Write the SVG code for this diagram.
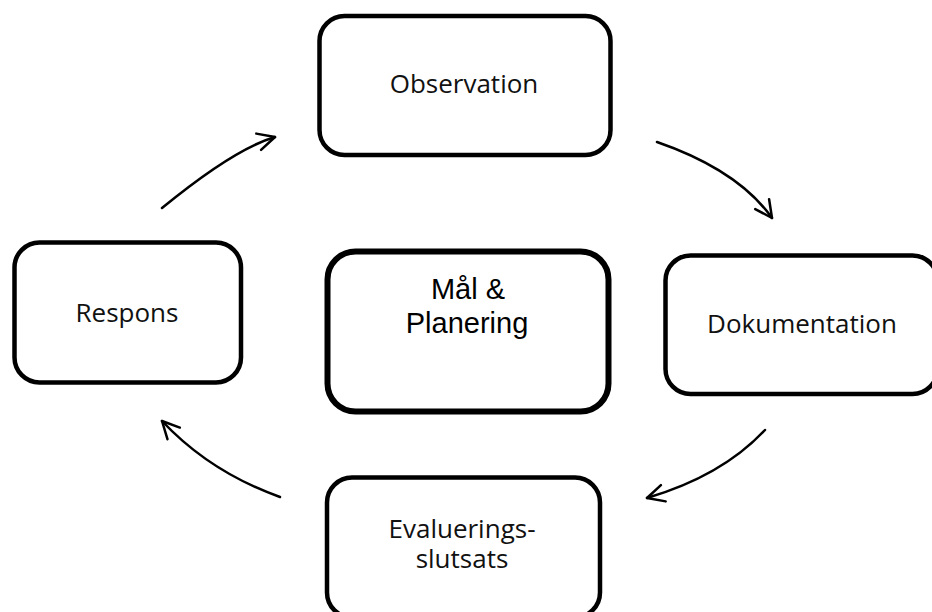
<svg xmlns="http://www.w3.org/2000/svg" width="932" height="612" viewBox="0 0 932 612">
<style>
.box{fill:#fff;stroke:#000;stroke-width:4.5}
.main{fill:#fff;stroke:#000;stroke-width:6}
.lbl{font-family:"Open Sans","Noto Sans",sans-serif;font-size:26px;fill:#111;text-anchor:middle}
.big{font-family:"Liberation Sans",Arial,sans-serif;font-size:29px;fill:#000;text-anchor:middle}
.arr{fill:none;stroke:#000;stroke-width:2.5;stroke-linecap:round}
</style>
<defs>
<marker id="ah" markerUnits="userSpaceOnUse" markerWidth="40" markerHeight="40" viewBox="-20 -20 40 40" refX="0" refY="0" orient="auto">
<path d="M-17,-8.5 L0,0 L-17,8.5" fill="none" stroke="#000" stroke-width="2.5" stroke-linecap="round" stroke-linejoin="round"/>
</marker>
</defs>
<rect width="932" height="612" fill="#fff"/>
<g id="connectors">
<path class="arr" d="M162,208 Q234,149 275,137" marker-end="url(#ah)"/>
<path class="arr" d="M657,142 Q738,170 772,218" marker-end="url(#ah)"/>
<path class="arr" d="M765,430 Q722,476 647,498" marker-end="url(#ah)"/>
<path class="arr" d="M280,497 Q210,472 162,421" marker-end="url(#ah)"/>
</g>
<g id="observation">
<rect class="box" x="319.5" y="16" width="291" height="139" rx="25"/>
<text class="lbl" x="464" y="93">Observation</text>
</g>
<g id="mal-planering">
<rect class="main" x="327.5" y="251.5" width="281" height="160" rx="28"/>
<text class="big" x="468" y="299">Mål &amp;</text>
<text class="big" x="467" y="333">Planering</text>
</g>
<g id="respons">
<rect class="box" x="14.5" y="242.5" width="226.5" height="140" rx="25"/>
<text class="lbl" x="127" y="322">Respons</text>
</g>
<g id="dokumentation">
<rect class="box" x="665.5" y="255.5" width="272" height="138.5" rx="25"/>
<text class="lbl" x="802" y="333">Dokumentation</text>
</g>
<g id="evaluering">
<rect class="box" x="327" y="477.5" width="273" height="140" rx="25"/>
<text class="lbl" x="462" y="538">Evaluerings-</text>
<text class="lbl" x="462" y="568">slutsats</text>
</g>
</svg>
